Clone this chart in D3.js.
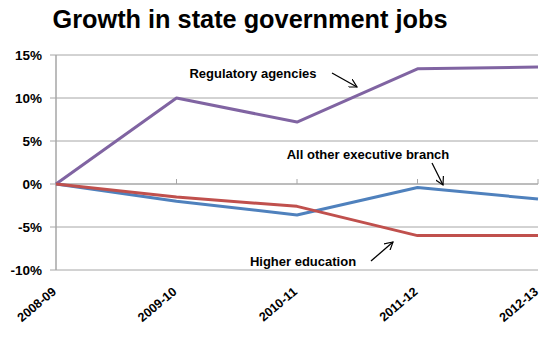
<!DOCTYPE html>
<html><head><meta charset="utf-8">
<script src="https://cdn.jsdelivr.net/npm/d3@7"></script>
<style>body{margin:0;background:#fff}svg{display:block}text{font-family:"Liberation Sans",Arial,sans-serif;font-weight:bold;fill:#000}</style>
</head><body>
<svg id="c" width="553" height="343"></svg>
<script>
const categories = ["2008-09","2009-10","2010-11","2011-12","2012-13"];
const regulatory = [0, 10.0, 7.2, 13.4, 13.6];
const allOther = [0, -2.0, -3.6, -0.4, -1.75];
const higherEd = [0, -1.5, -2.6, -6.0, -6.0];
const yTicks = [15, 10, 5, 0, -5, -10];
const seriesNames = ["Regulatory agencies","All other executive branch","Higher education"];
const colors = ["#8064A2","#4F81BD","#C0504D"];

const svg = d3.select("#c");
const x = d3.scalePoint().domain(categories).range([56, 538]);
const y = d3.scaleLinear().domain([-10, 15]).range([270, 55]);

svg.append("text").attr("x", 250).attr("y", 28).attr("text-anchor","middle")
  .style("font-size","25.3px").text("Growth in state government jobs");

// gridlines
svg.append("g").selectAll("line").data(yTicks).join("line")
  .attr("x1", 50).attr("x2", 538).attr("y1", d=>y(d)).attr("y2", d=>y(d))
  .attr("stroke", "#a6a6a6").attr("stroke-width", 1);

// y axis labels
svg.append("g").selectAll("text").data(yTicks).join("text")
  .attr("x", 42).attr("y", d=>y(d)+5).attr("text-anchor","end")
  .style("font-size","13.5px").text(d=>d+"%");

// y axis line
svg.append("line").attr("x1",56).attr("x2",56).attr("y1",y(15)).attr("y2",y(-10))
  .attr("stroke","#a6a6a6").attr("stroke-width",1.5);

// x axis at 0 with ticks
svg.append("line").attr("x1",56).attr("x2",538).attr("y1",y(0)).attr("y2",y(0))
  .attr("stroke","#a6a6a6").attr("stroke-width",1);
svg.append("g").selectAll("line").data(categories.slice(1)).join("line")
  .attr("x1", d=>x(d)).attr("x2", d=>x(d)).attr("y1", y(0)-5).attr("y2", y(0))
  .attr("stroke","#a6a6a6");

// x labels
svg.append("g").selectAll("text").data(categories).join("text")
  .attr("transform", d=>`translate(${x(d)+1},${293}) rotate(-40)`)
  .attr("text-anchor","end").style("font-size","12.5px").text(d=>d);

// lines
const line = d3.line().x((d,i)=>x(categories[i])).y(d=>y(d));
[regulatory, allOther, higherEd].forEach((s,i)=>{
  svg.append("path").datum(s).attr("d", line).attr("fill","none")
    .attr("stroke", colors[i]).attr("stroke-width", 3).attr("stroke-linejoin","round");
});

// annotations
svg.append("defs").append("marker").attr("id","ah").attr("viewBox","0 0 10 10")
  .attr("refX",9).attr("refY",5).attr("markerWidth",9).attr("markerHeight",9).attr("orient","auto")
  .attr("markerUnits","userSpaceOnUse")
  .append("path").attr("d","M0,0 L9,5 L0,10").attr("fill","none").attr("stroke","#000").attr("stroke-width",1.3);

const notes = [
  {t: seriesNames[0], tx: 253, ty: 78, a: [332,73,357,87]},
  {t: seriesNames[1], tx: 368, ty: 159, a: [432,163,443,185]},
  {t: seriesNames[2], tx: 303, ty: 266, a: [371,261,393,242]}
];
notes.forEach(n=>{
  svg.append("text").attr("x", n.tx).attr("y", n.ty).attr("text-anchor","middle")
    .style("font-size","13px").text(n.t);
  svg.append("line").attr("x1",n.a[0]).attr("y1",n.a[1]).attr("x2",n.a[2]).attr("y2",n.a[3])
    .attr("stroke","#000").attr("stroke-width",1.3).attr("marker-end","url(#ah)");
});
</script>
</body></html>
